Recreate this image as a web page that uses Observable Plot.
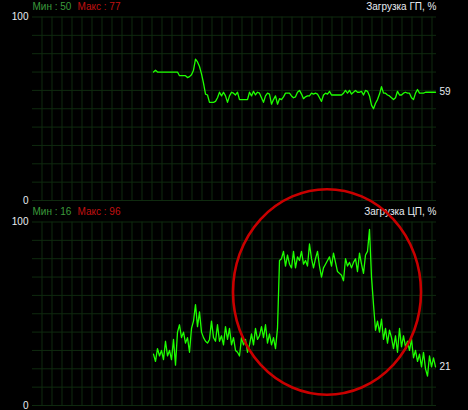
<!DOCTYPE html>
<html><head><meta charset="utf-8">
<script src="https://cdn.jsdelivr.net/npm/d3@7"></script>
<script src="https://cdn.jsdelivr.net/npm/@observablehq/plot@0.6"></script>
<style>
html,body{margin:0;padding:0;background:#000;}
#chart{width:468px;height:410px;overflow:hidden;background:#000;}
#chart svg{display:block;}
</style></head><body><div id="chart"></div>
<script>
// GPU load, % (one sample per slot, oldest first)
const gpuLoad = [70,71,70,70,70,70,70,70,70,70,70,70,70,
  68,68,68,68,67,67.5,68.5,71,77,75.5,73,69,64,58,57.5,
  53.5,53.5,53.5,54,56,59,57,59,57,53.5,57,59,58.5,57.5,59,
  55,55,55,55,55,59,57,59.5,57.5,59,58.5,56,53.5,57,58.5,
  58,52.5,55,57,52.5,55.5,55,56.5,58.5,58.5,58.5,57,56,56.5,59,
  60,58,55.5,56.5,57,57,58.5,58,58.5,58,56,54,57.5,58.5,58,
  59.5,57.5,57.5,57.5,57.5,57.5,57.5,58.5,60,58.5,60,58,59,60,59,
  59,59.5,57.5,60,59.5,57,52,50,53,55,58,62,58.5,58.5,57.5,
  57,56,55,56,59.5,57.5,57.5,58.5,59,58.5,58.5,56,55,58.5,60.5,
  58.5,58.5,58.5,59,59,59,59,59,59];
// CPU load, % (one sample per slot, oldest first)
const cpuLoad = [28,24,31,27,30,25,35,27,30,25,36,22,40,44,37,
  40,34,37,29,42,46,55,43,51,40,37,35,34,36,46,
  37,35,44,35,38,33,43,36,42,33,37,30,29,27,37,
  33,36,29,33,39,33,42,36,38,43,37,44,34,39,33,
  37,31,42,79,80,84,76,82,77,75,84,75,81,79,84,
  77,79,76,88,80,75,80,84,76,70,75,77,79,81,76,
  83,78,73,72,71,68,80,76,78,75,78,80,73,83,77,
  72,82,84,96,70,55,41,46,40,47,36,42,34,41,37,
  31,38,29,42,32,38,32,35,30,36,26,30,24,28,21,
  29,20,16,27,21,26,21];

const panelTitles = ["Загрузка ГП, %", "Загрузка ЦП, %"];
const statNames = ["Мин", "Макс"];
const yTickValues = [0, 100];
const yGridValues = [0,10,20,30,40,50,60,70,80,90,100];
const SLOTS = 202;            // sample slots visible in the window
// highlight ellipse drawn on the CPU panel (centre time/value, radii in data units)
const highlight = {t: 147.5, v: 61.6, rt: 47, rv: 56};

const gridColor = "#0f2a0f";
const lineColor = "#1eff00";
const minColor = "#3b9a3b";
const maxColor = "#c01010";
const textColor = "#e8ecf2";
const font = "'Liberation Sans', Arial, sans-serif";

function panel(values, title, note) {
  const n = values.length;
  const data = values.map((v, i) => ({t: SLOTS - 0.5 - (n - 1 - i), v}));
  const last = data[n - 1];
  const mn = d3.min(values), mx = d3.max(values);
  const marks = [
    Plot.ruleY(yGridValues, {stroke: gridColor, strokeWidth: 1}),
    Plot.ruleX(d3.range(4.75, SLOTS, 5), {stroke: gridColor, strokeWidth: 1}),
    Plot.line(data, {x: "t", y: "v", stroke: lineColor, strokeWidth: 1.3}),
    Plot.text([last], {x: "t", y: "v", text: d => String(d.v), textAnchor: "start", dx: 4, fill: textColor}),
    Plot.text([`${statNames[0]} : ${mn}`], {text: d => d, frameAnchor: "top-left", textAnchor: "start", lineAnchor: "middle", dy: -10.5, fill: minColor}),
    Plot.text([`${statNames[1]} : ${mx}`], {text: d => d, frameAnchor: "top-left", textAnchor: "start", lineAnchor: "middle", dx: 45, dy: -10.5, fill: maxColor}),
    Plot.text([title], {text: d => d, frameAnchor: "top-right", textAnchor: "end", lineAnchor: "middle", dy: -10.5, fill: textColor})
  ];
  if (note) {
    marks.push((index, scales) => {
      const {x, y} = scales;
      const cx = x(note.t), cy = y(note.v);
      const rx = x(note.t + note.rt) - cx, ry = cy - y(note.v + note.rv);
      return d3.create("svg:ellipse")
        .attr("cx", cx).attr("cy", cy).attr("rx", rx).attr("ry", ry)
        .attr("fill", "none").attr("stroke", "#c80000").attr("stroke-width", 2.6)
        .node();
    });
  }
  return Plot.plot({
    width: 468, height: 205,
    marginLeft: 32, marginRight: 32, marginTop: 16.5, marginBottom: 5,
    style: {background: "transparent", color: textColor, fontFamily: font, fontSize: "10px", overflow: "visible"},
    x: {domain: [0, SLOTS], axis: null},
    y: {domain: [0, 100], ticks: yTickValues, tickSize: 0, tickPadding: 4, label: null},
    marks
  });
}

const root = document.getElementById("chart");
root.appendChild(panel(gpuLoad, panelTitles[0], null));
root.appendChild(panel(cpuLoad, panelTitles[1], highlight));
</script></body></html>
